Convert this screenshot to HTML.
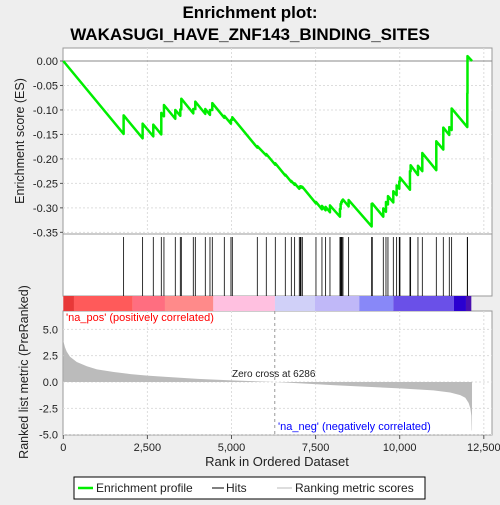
<!DOCTYPE html>
<html><head><meta charset="utf-8"><style>
body{margin:0;background:#eeeeee;font-family:"Liberation Sans",sans-serif}
svg text{font-family:"Liberation Sans",sans-serif}
</style></head><body>
<svg id="c" width="500" height="500" xmlns="http://www.w3.org/2000/svg">
<rect x="0" y="0" width="500" height="500" fill="#eeeeee"/>
<text x="250" y="18" text-anchor="middle" font-size="17" font-weight="bold" fill="#000">Enrichment plot:</text>
<text x="250" y="40" text-anchor="middle" font-size="17" font-weight="bold" fill="#000">WAKASUGI_HAVE_ZNF143_BINDING_SITES</text>
<g id="g"></g>
</svg>
<script>
const hitRanks=[1793,2358,2675,2913,2992,3329,3478,3508,3864,3924,4221,4360,4429,4786,4984,5024,5767,6034,6302,6599,6778,6877,7015,7045,7065,7105,7511,7689,7798,7927,8224,8244,8264,8284,8314,8482,9166,9185,9512,9592,9651,9810,9909,9988,10008,10305,10325,10543,10672,11088,11296,11474,11544,12009,12015];
const esPre=[-0.149,-0.158,-0.154,-0.150,-0.113,-0.118,-0.112,-0.099,-0.107,-0.098,-0.108,-0.110,-0.100,-0.116,-0.128,-0.120,-0.177,-0.193,-0.212,-0.234,-0.247,-0.253,-0.261,-0.259,-0.258,-0.259,-0.291,-0.303,-0.305,-0.309,-0.318,-0.302,-0.292,-0.288,-0.285,-0.297,-0.338,-0.292,-0.318,-0.308,-0.293,-0.289,-0.274,-0.261,-0.246,-0.263,-0.225,-0.233,-0.225,-0.223,-0.181,-0.151,-0.141,-0.135,-0.066];
const esTop=[-0.111,-0.128,-0.130,-0.106,-0.090,-0.100,-0.099,-0.077,-0.098,-0.083,-0.098,-0.100,-0.086,-0.112,-0.120,-0.115,-0.174,-0.190,-0.209,-0.232,-0.245,-0.250,-0.257,-0.256,-0.256,-0.257,-0.288,-0.296,-0.298,-0.295,-0.302,-0.292,-0.288,-0.285,-0.283,-0.284,-0.292,-0.291,-0.301,-0.288,-0.276,-0.266,-0.254,-0.246,-0.238,-0.225,-0.213,-0.214,-0.188,-0.164,-0.136,-0.135,-0.097,-0.066,0.010];
const esEnd=[12150,0.0];
const metricRanks=[0,50,100,200,400,700,1000,1500,2000,2500,3000,4000,5000,6286,7000,8000,9000,10000,10500,11000,11500,11800,11950,12050,12100,12130,12140,12150];
const metricVals=[3.9,3.3,2.9,2.4,1.9,1.5,1.2,0.95,0.75,0.6,0.5,0.3,0.15,0.0,-0.12,-0.3,-0.45,-0.6,-0.7,-0.8,-1.0,-1.25,-1.5,-2.0,-2.5,-3.2,-4.6,-4.6];
const barStarts=[0,317,2061,3022,4459,6292,7481,8799,9810,11613,11970];
const barEnds=[317,2061,3022,4459,6292,7481,8799,9810,11613,11970,12129];
const barColors=["#e83838","#ff5a5a","#ff6e80","#ff8a8a","#ffc0e0","#d0d0f8","#c0b8f8","#8888f8","#6a50e8","#2a00d0","#4a10b0"];
const xTicks=[0,2500,5000,7500,10000,12500];
const xTickLabels=["0","2,500","5,000","7,500","10,000","12,500"];
const esTicks=[0,-0.05,-0.10,-0.15,-0.20,-0.25,-0.30,-0.35];
const esTickLabels=["0.00","-0.05","-0.10","-0.15","-0.20","-0.25","-0.30","-0.35"];
const mTicks=[5,2.5,0,-2.5,-5];
const mTickLabels=["5.0","2.5","0.0","-2.5","-5.0"];

const L=63,R=492;
const X=r=>63.3+r*0.033640;
const YE=v=>61-v*489.5;
const YM=v=>382-v*10.53;
const NS="http://www.w3.org/2000/svg";
const g=document.getElementById('g');
function mk(t,a,p){const e=document.createElementNS(NS,t);for(const k in a)e.setAttribute(k,a[k]);(p||g).appendChild(e);return e;}

// panels
let p1=mk('rect',{x:L,y:48,width:R-L,height:186,fill:'#fff',stroke:'#999'});

let p2=mk('rect',{x:L,y:234,width:R-L,height:62,fill:'#fff',stroke:'#999'});

let p3=mk('rect',{x:L,y:311,width:R-L,height:124,fill:'#fff',stroke:'#999'});


// grid
xTicks.forEach((t,i)=>{
  if(i===0)return;
  let l=mk('line',{x1:X(t),x2:X(t),y1:48,y2:234,stroke:'#ddd','stroke-dasharray':'2,2'});
  
  let l2=mk('line',{x1:X(t),x2:X(t),y1:311,y2:435,stroke:'#ddd','stroke-dasharray':'2,2'});
  
});
esTicks.forEach((t,i)=>{
  let l=mk('line',{x1:L,x2:R,y1:YE(t),y2:YE(t),stroke:t===0?'#888':'#ddd','stroke-dasharray':t===0?'':'2,2'});
  
  let tk=mk('line',{x1:L-3,x2:L,y1:YE(t),y2:YE(t),stroke:'#555'});
  
  let tx=mk('text',{x:L-5,y:YE(t)+4,'text-anchor':'end','font-size':11,fill:'#222'});tx.textContent=esTickLabels[i];
  
});
mTicks.forEach((t,i)=>{
  let l=mk('line',{x1:L,x2:R,y1:YM(t),y2:YM(t),stroke:'#ddd','stroke-dasharray':'2,2'});
  
  let tx=mk('text',{x:L-5,y:YM(t)+4,'text-anchor':'end','font-size':11,fill:'#222'});tx.textContent=mTickLabels[i];
  
});
xTicks.forEach((t,i)=>{
  let tk=mk('line',{x1:X(t),x2:X(t),y1:435,y2:439,stroke:'#555'});
  
  let tx=mk('text',{x:X(t),y:451,'text-anchor':'middle','font-size':11,fill:'#222'});tx.textContent=xTickLabels[i];
  
});

// hits
hitRanks.forEach(r=>{
  let l=mk('line',{x1:X(r),x2:X(r),y1:237,y2:296,stroke:'#000','stroke-width':0.8});
  
});
// color bar
barStarts.forEach((s,i)=>{
  let b=mk('rect',{x:X(s),y:296,width:X(barEnds[i])-X(s),height:15,fill:barColors[i]});
  
});
// metric area
let pts=[[X(0),YM(0)]];
metricRanks.forEach((r,i)=>pts.push([X(r),YM(metricVals[i])]));
pts.push([X(metricRanks[metricRanks.length-1]),YM(0)]);
let area=mk('polygon',{points:pts.map(p=>p.join(',')).join(' '),fill:'#bbbbbb'});

let zl=mk('line',{x1:X(6286),x2:X(6286),y1:311,y2:435,stroke:'#999','stroke-dasharray':'3,3'});


// ES curve
let d='M'+X(0)+','+YE(0);
hitRanks.forEach((r,i)=>{d+=' L'+X(r)+','+YE(esPre[i])+' L'+X(r)+','+YE(esTop[i]);});
d+=' L'+X(esEnd[0])+','+YE(esEnd[1]);
let es=mk('path',{d:d,fill:'none',stroke:'#00ee00','stroke-width':2.5,'stroke-linejoin':'round'});


// labels
function txt(a,s,n){let t=mk('text',a);t.textContent=s;return t;}
txt({x:66,y:321,'font-size':11,fill:'#ff0000'},"'na_pos' (positively correlated)",'na-pos-label');
txt({x:278,y:430,'font-size':11,fill:'#0000ff'},"'na_neg' (negatively correlated)",'na-neg-label');
txt({x:232,y:377,'font-size':10,fill:'#222'},"Zero cross at 6286",'zero-cross-label');
txt({x:277,y:466,'text-anchor':'middle','font-size':13,fill:'#222'},"Rank in Ordered Dataset",'x-axis-title');
txt({x:0,y:0,'text-anchor':'middle','font-size':12.5,fill:'#222',transform:'translate(24,141) rotate(-90)'},"Enrichment score (ES)",'es-axis-title');
txt({x:0,y:0,'text-anchor':'middle','font-size':12.5,fill:'#222',transform:'translate(28,372) rotate(-90)'},"Ranked list metric (PreRanked)",'metric-axis-title');

// legend
let lg=mk('rect',{x:74,y:477,width:351,height:22,fill:'#fff',stroke:'#000'});

let l1=mk('line',{x1:78,x2:93,y1:488,y2:488,stroke:'#00ee00','stroke-width':2.5});

txt({x:96,y:492,'font-size':12,fill:'#222'},"Enrichment profile",'legend-enrichment-profile');
let l2=mk('line',{x1:212,x2:224,y1:488,y2:488,stroke:'#000','stroke-width':1});

txt({x:226,y:492,'font-size':12,fill:'#222'},"Hits",'legend-hits');
let l3=mk('line',{x1:277,x2:292,y1:488,y2:488,stroke:'#bbb','stroke-width':1});

txt({x:295,y:492,'font-size':12,fill:'#222'},"Ranking metric scores",'legend-ranking-metric');
</script>
</body></html>
